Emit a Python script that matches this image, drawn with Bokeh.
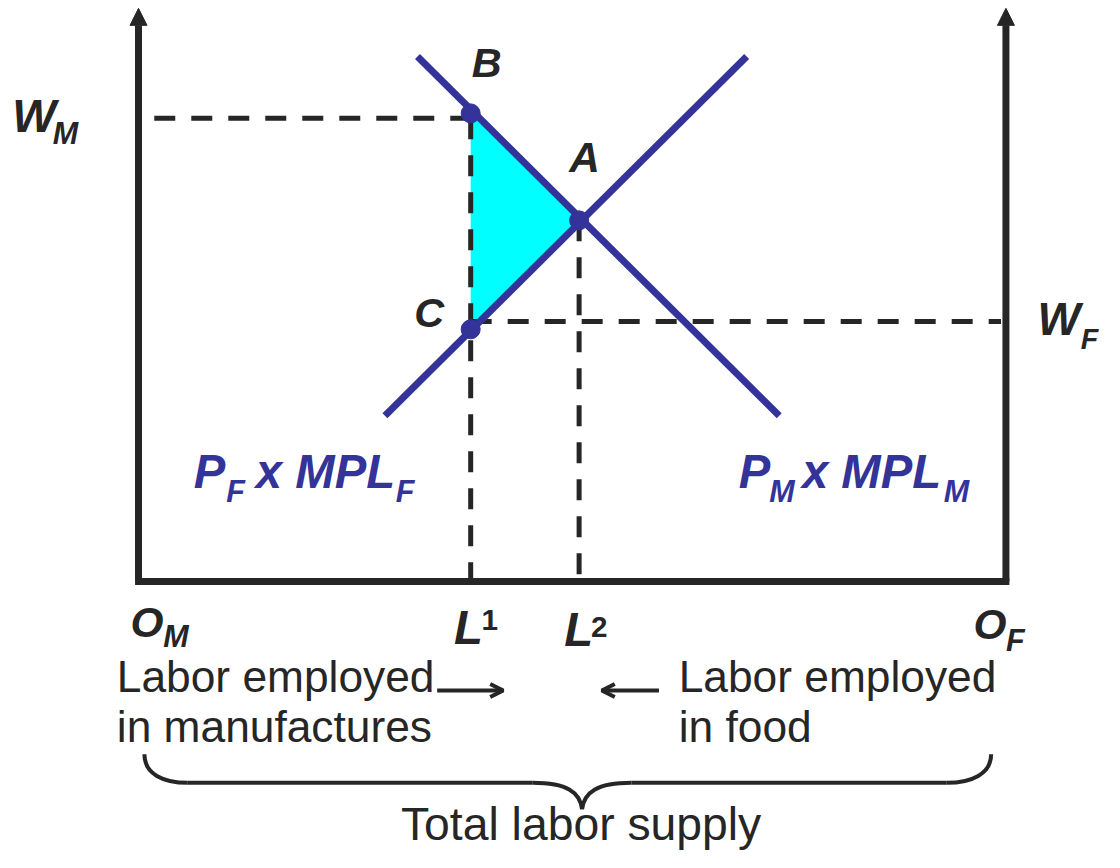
from bokeh.plotting import figure
from bokeh.models import Range1d, Arrow, NormalHead, OpenHead
from bokeh.core.properties import value
from bokeh.embed import file_html
from bokeh.resources import INLINE

# ---- data (labor on x from O_M, wage on y) ----
total_labor = 880
axis_top = 584
mpl_m_x = [283, 650]          # P_M x MPL_M (downward sloping)
mpl_m_y = [535, 169]
mpl_f_x = [250, 617]          # P_F x MPL_F (upward sloping)
mpl_f_y = [169, 535]
L1 = 337
L2 = 447
W_M = 472
W_F = 265
pt_names = ["B", "A", "C"]
pt_x = [L1, L2, L1]
pt_y = [477, 368, 257]

DARK = "#262626"
BLUE = "#333399"
FONT = value("Liberation Sans")
SCALE = 0.985

p = figure(width=1104, height=852, output_backend="svg", toolbar_location=None,
           x_range=Range1d(-140, 980), y_range=Range1d(-276, 592),
           min_border=0)
p.axis.visible = False
p.grid.visible = False
p.outline_line_color = None
p.background_fill_color = "white"

# shaded triangle
p.patch(pt_x, pt_y, fill_color="#00FFFF", line_color=None)

# dashed guides
dash = dict(line_color=DARK, line_width=5, line_dash="21 16")
p.line([16, L1], [W_M, W_M], **dash)
p.line([L1, total_labor - 5], [W_F, W_F], **dash)
p.line([L1, L1], [W_M, 0], **dash)
p.line([L2, L2], [pt_y[1], 0], **dash)

# axes
p.line([-3.5, total_labor + 3.5], [0, 0], line_color=DARK, line_width=7)
for ax in (0, total_labor):
    p.add_layout(Arrow(x_start=ax, y_start=0, x_end=ax, y_end=axis_top,
                       line_color=DARK, line_width=7,
                       end=NormalHead(size=17, fill_color=DARK, line_color=DARK, line_width=1)))

# MPL curves
p.line(mpl_m_x, mpl_m_y, line_color=BLUE, line_width=7)
p.line(mpl_f_x, mpl_f_y, line_color=BLUE, line_width=7)
p.scatter(pt_x, pt_y, size=19, fill_color=BLUE, line_color=BLUE)


def txt(x, y, s, size, color=DARK, style="bold italic", align="left"):
    fs = size * SCALE
    p.text(x=[x], y=[y + 0.39 * size], text=[s], text_font=FONT,
           text_font_size=value(f"{fs:.1f}px"),
           text_font_style=value(style), text_color=color, text_align=value(align),
           text_baseline=value("alphabetic"))


# point labels
txt(pt_x[0] + 1, pt_y[0] + 35, "B", 42)
txt(pt_x[1] - 10, pt_y[1] + 47, "A", 43)
txt(pt_x[2] - 27, pt_y[2], "C", 42, align="right")

# wage labels
txt(-128, W_M - 16, "W", 47)
txt(-87, W_M - 27, "M", 31)
txt(912, W_F - 16, "W", 46)
txt(956, W_F - 29, "F", 29)

# curve labels
txt(56, 93, "P", 48, BLUE)
txt(89, 80, "F", 31, BLUE)
txt(119, 93, "x MPL", 48, BLUE)
txt(261, 80, "F", 31, BLUE)
txt(609, 93, "P", 48, BLUE)
txt(640, 80, "M", 31, BLUE)
txt(673, 93, "x MPL", 48, BLUE)
txt(817, 80, "M", 31, BLUE)

# x-axis labels
txt(-8, -58, "O", 43)
txt(25, -68, "M", 31)
txt(total_labor - 33, -60, "O", 43)
txt(total_labor, -72, "F", 31)
txt(L1 - 17, -65, "L", 48)
txt(L1 + 11, -51, "1", 30, style="bold")
txt(L2 - 15, -68, "L", 48)
txt(L2 + 12, -58, "2", 30, style="bold")

# descriptions
txt(-22, -114, "Labor employed", 45, style="normal")
txt(-22, -165, "in manufactures", 45, style="normal")
txt(548, -114, "Labor employed", 45, style="normal")
txt(548, -165, "in food", 45, style="normal")
txt(449, -265, "Total labor supply", 47, style="normal", align="center")

# small arrows
p.add_layout(Arrow(x_start=303, y_start=-111, x_end=370, y_end=-111, line_color=DARK, line_width=4,
                   end=OpenHead(size=13, line_color=DARK, line_width=4)))
p.add_layout(Arrow(x_start=528, y_start=-111, x_end=470, y_end=-111, line_color=DARK, line_width=4,
                   end=OpenHead(size=13, line_color=DARK, line_width=4)))

# brace
bl, br, tip = 6, 865, 450
p.bezier(x0=[bl, 400, tip, 820], y0=[-176, -205, -232, -205],
         x1=[50, tip, 500, br], y1=[-205, -232, -205, -176],
         cx0=[bl, 435, tip + 2, 845], cy0=[-196, -205, -215, -205],
         cx1=[25, tip - 2, 465, br], cy1=[-205, -215, -205, -196],
         line_color=DARK, line_width=4)
p.segment(x0=[50, 500], y0=[-205, -205], x1=[400, 820], y1=[-205, -205],
          line_color=DARK, line_width=4)

open("out.html", "w").write(file_html(p, INLINE))
